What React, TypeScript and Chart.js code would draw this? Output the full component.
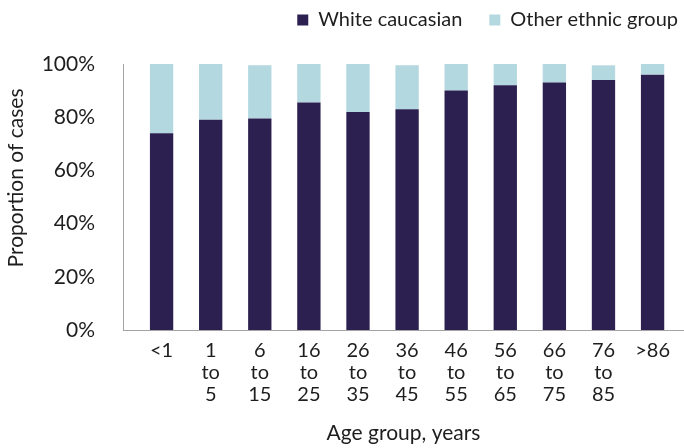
import React, { useEffect, useRef } from "react";
import { Chart, registerables } from "chart.js";

Chart.register(...registerables);

const categories = ["<1", "1 to 5", "6 to 15", "16 to 25", "26 to 35", "36 to 45", "46 to 55", "56 to 65", "66 to 75", "76 to 85", ">86"];
const whiteCaucasian = [74, 79, 79.5, 85.5, 82, 83, 90, 92, 93, 94, 96];
const otherEthnic = [26, 21, 20, 14.5, 18, 16.5, 10, 8, 7, 5.5, 4];
const yTicks = [0, 20, 40, 60, 80, 100];
const seriesNames = ["White caucasian", "Other ethnic group"];
const xTitle = "Age group, years";
const yTitle = "Proportion of cases";

const DARK = "#2c2050";
const LIGHT = "#b3d8df";
const TEXT = "#1e1e1e";
const AXIS = "#a3a3a3";
const FONT = "Lato, 'Open Sans', sans-serif";

const yTitlePlugin = {
  id: "yTitlePlugin",
  afterDraw(chart: any) {
    const { ctx, chartArea } = chart;
    ctx.save();
    ctx.font = `21px ${FONT}`;
    ctx.fillStyle = TEXT;
    ctx.textAlign = "center";
    ctx.textBaseline = "middle";
    ctx.translate(16.5, (chartArea.top + chartArea.bottom) / 2 - 19);
    ctx.rotate(-Math.PI / 2);
    ctx.fillText(yTitle, 0, 0);
    ctx.restore();
  },
};

export default function App() {
  const ref = useRef<HTMLCanvasElement | null>(null);

  useEffect(() => {
    if (!ref.current) return;
    const chart = new Chart(ref.current, {
      type: "bar",
      data: {
        datasets: [
          {
            label: seriesNames[0],
            data: whiteCaucasian.map((v, i) => ({ x: i, y: v })),
            backgroundColor: DARK,
            borderWidth: 0,
            barPercentage: 1,
            categoryPercentage: 0.475,
          },
          {
            label: seriesNames[1],
            data: otherEthnic.map((v, i) => ({ x: i, y: v })),
            backgroundColor: LIGHT,
            borderWidth: 0,
            barPercentage: 1,
            categoryPercentage: 0.475,
          },
        ],
      },
      options: {
        animation: false,
        responsive: false,
        layout: { padding: { top: -17, right: -21, left: 0, bottom: 0 } },
        plugins: {
          legend: {
            position: "top",
            align: "end",
            labels: {
              boxWidth: 11,
              boxHeight: 11,
              padding: 27,
              color: TEXT,
              font: { family: FONT, size: 20 },
            },
          },
          title: {
            display: true,
            text: "",
            weight: 500,
            padding: { top: 23, bottom: 0 },
            font: { size: 1, lineHeight: 1 },
          },
          tooltip: { enabled: false },
        },
        scales: {
          x: {
            type: "linear",
            stacked: true,
            offset: false,
            bounds: "data",
            min: -0.786,
            max: 10.64,
            afterBuildTicks: (axis: any) => {
              axis.ticks = categories.map((_, i) => ({ value: i }));
            },
            afterFit: (scale: any) => {
              scale.height = 118;
            },
            grid: { display: false, drawTicks: false },
            border: { display: true, color: AXIS, width: 1 },
            ticks: {
              autoSkip: false,
              maxRotation: 0,
              minRotation: 0,
              padding: 10,
              color: TEXT,
              font: { family: FONT, size: 20, lineHeight: 1.1 },
              callback: (_v: any, i: number) => categories[i].split(" "),
            },
            title: {
              display: true,
              text: xTitle,
              color: TEXT,
              font: { family: FONT, size: 21, lineHeight: 1.2 },
              padding: { top: 0, bottom: 2.5 },
            },
          },
          y: {
            stacked: true,
            min: 0,
            max: 100,
            afterBuildTicks: (axis: any) => {
              axis.ticks = yTicks.map((v) => ({ value: v }));
            },
            afterFit: (scale: any) => {
              scale.width = 123;
            },
            grid: { display: false, drawTicks: false },
            border: { display: true, color: AXIS, width: 1 },
            ticks: {
              padding: 28,
              color: TEXT,
              font: { family: FONT, size: 21 },
              callback: (v: any) => `${v}%`,
            },
          },
        },
      },
      plugins: [yTitlePlugin],
    } as any);
    return () => chart.destroy();
  }, []);

  return (
    <div style={{ position: "absolute", left: 0, top: 0, width: 684, height: 448 }}>
      <canvas ref={ref} width={684} height={448} />
    </div>
  );
}
